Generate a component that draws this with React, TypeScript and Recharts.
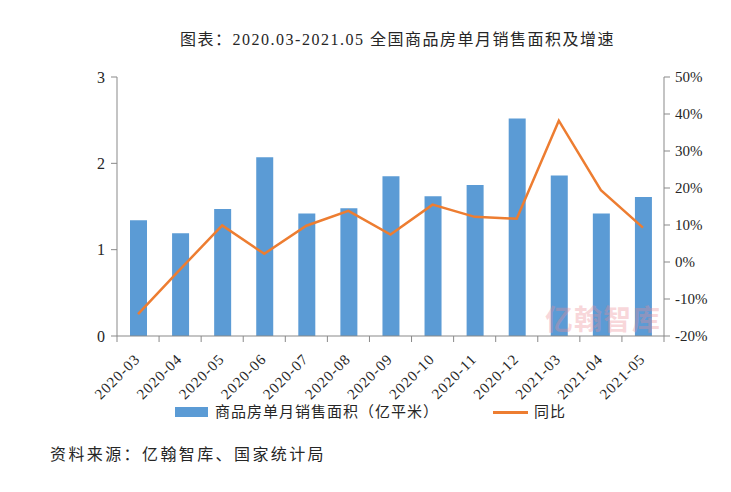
import React from 'react';
import { ComposedChart, Bar, Line, XAxis, YAxis } from 'recharts';

const categories = ['2020-03', '2020-04', '2020-05', '2020-06', '2020-07', '2020-08', '2020-09', '2020-10', '2020-11', '2020-12', '2021-03', '2021-04', '2021-05'];
const areaValues = [1.34, 1.19, 1.47, 2.07, 1.42, 1.48, 1.85, 1.62, 1.75, 2.52, 1.86, 1.42, 1.61];
const yoyValues = [-14.1, -2.0, 9.9, 2.2, 9.8, 13.8, 7.4, 15.5, 12.2, 11.7, 38.2, 19.4, 9.3];
const leftTicks = [0, 1, 2, 3];
const rightTicks = [-20, -10, 0, 10, 20, 30, 40, 50];

const title = '图表：2020.03-2021.05 全国商品房单月销售面积及增速';
const barName = '商品房单月销售面积（亿平米）';
const lineName = '同比';
const source = '资料来源：亿翰智库、国家统计局';
const watermark = '亿翰智库';

const data = categories.map((c, i) => ({ month: c, area: areaValues[i], yoy: yoyValues[i] }));

const FONT = '"Liberation Serif", "Noto Sans CJK SC", serif';
const AXIS = '#898989';
const TEXT = '#262626';
const BLUE = '#5B9BD5';
const ORANGE = '#ED7D31';

const XTick = (props: any) => {
  const { x, y, payload, index, width, visibleTicksCount } = props;
  const band = width / visibleTicksCount;
  const left = x - band / 2;
  const right = x + band / 2;
  const tx = x + 3;
  const ty = y + 24;
  return (
    <g>
      <line x1={left} y1={y} x2={left} y2={y + 6} stroke={AXIS} strokeWidth={1} />
      {index === visibleTicksCount - 1 && (
        <line x1={right} y1={y} x2={right} y2={y + 6} stroke={AXIS} strokeWidth={1} />
      )}
      <text
        x={tx}
        y={ty}
        textAnchor="end"
        transform={`rotate(-45, ${tx}, ${ty})`}
        fill={TEXT}
        fontSize={15}
        fontFamily={FONT}
        letterSpacing={1}
      >
        {payload.value}
      </text>
    </g>
  );
};

export default function App() {
  return (
    <div style={{ position: 'absolute', left: 0, top: 0, width: 731, height: 492, background: '#fff', fontFamily: FONT }}>
      <div
        style={{
          position: 'absolute',
          left: 0,
          width: 731,
          top: 29,
          textAlign: 'center',
          fontSize: 16,
          letterSpacing: 1.5,
          color: TEXT,
          paddingLeft: 64,
          boxSizing: 'border-box',
          whiteSpace: 'nowrap',
          lineHeight: '22px',
        }}
      >
        {title}
      </div>
      <ComposedChart width={731} height={492} data={data} margin={{ top: 77, right: 17, bottom: 96, left: 57 }}>
        <XAxis
          dataKey="month"
          interval={0}
          height={60}
          tickLine={false}
          tickSize={0}
          tickMargin={0}
          stroke={AXIS}
          tick={<XTick />}
        />
        <YAxis
          yAxisId="left"
          orientation="left"
          width={60}
          domain={[0, 3]}
          ticks={leftTicks}
          stroke={AXIS}
          tickSize={6}
          tickMargin={6}
          tick={{ fill: TEXT, fontSize: 16, fontFamily: FONT }}
        />
        <YAxis
          yAxisId="right"
          orientation="right"
          width={50}
          domain={[-20, 50]}
          ticks={rightTicks}
          stroke={AXIS}
          tickSize={6}
          tickMargin={5}
          tickFormatter={(v: number) => `${v}%`}
          tick={{ fill: TEXT, fontSize: 15, fontFamily: FONT }}
        />
        <Bar yAxisId="left" dataKey="area" name={barName} fill={BLUE} barSize={17} isAnimationActive={false} />
        <Line
          yAxisId="right"
          dataKey="yoy"
          name={lineName}
          type="linear"
          stroke={ORANGE}
          strokeWidth={2.5}
          dot={false}
          isAnimationActive={false}
        />
      </ComposedChart>
      <div
        style={{
          position: 'absolute',
          left: 545,
          top: 300,
          fontSize: 28,
          fontWeight: 700,
          color: 'rgba(236, 140, 150, 0.35)',
          fontFamily: '"Noto Sans CJK SC", sans-serif',
          letterSpacing: 1,
          whiteSpace: 'nowrap',
          pointerEvents: 'none',
          lineHeight: '36px',
        }}
      >
        {watermark}
      </div>
      <div style={{ position: 'absolute', left: 175, top: 403, display: 'flex', alignItems: 'center', fontSize: 15, color: TEXT, whiteSpace: 'nowrap', lineHeight: '18px' }}>
        <span style={{ display: 'inline-block', width: 33, height: 10, background: BLUE, marginRight: 7 }} />
        <span style={{ letterSpacing: 1 }}>{barName}</span>
        <span style={{ display: 'inline-block', width: 35, height: 3, background: ORANGE, marginLeft: 54, marginRight: 6 }} />
        <span style={{ letterSpacing: 1 }}>{lineName}</span>
      </div>
      <div style={{ position: 'absolute', left: 50, top: 444, fontSize: 16, letterSpacing: 2.4, color: TEXT, whiteSpace: 'nowrap', lineHeight: '22px' }}>
        {source}
      </div>
    </div>
  );
}
